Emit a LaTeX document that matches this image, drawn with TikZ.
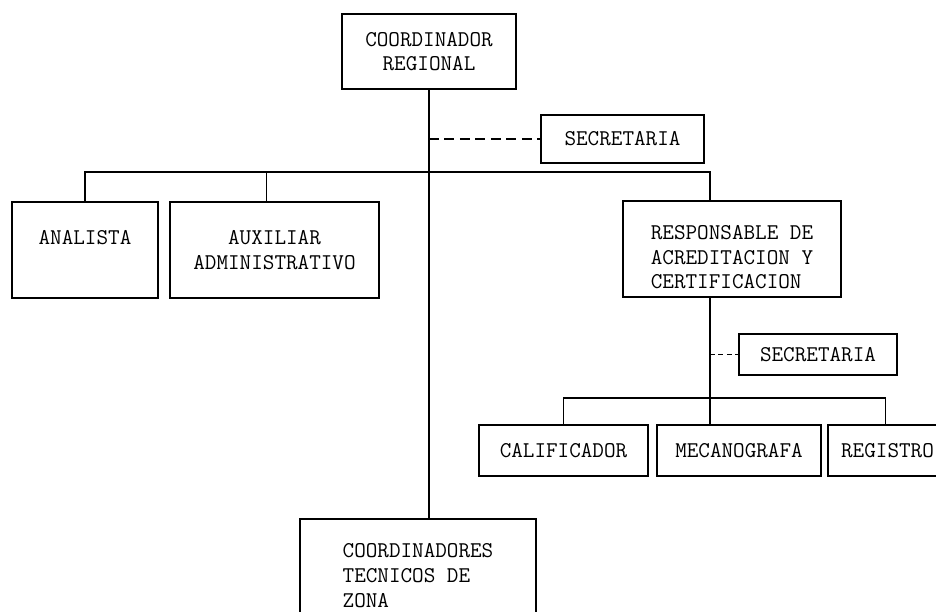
\documentclass[tikz,border=0pt]{standalone}
\usepackage{fontspec}
\usepackage{tikz}

\begin{document}
\begin{tikzpicture}[x=0.025cm, y=-0.025cm,
	puesto/.style={draw, line width=1.8pt, align=center, inner sep=2pt, font=\ttfamily\fontsize{16}{17.5}\selectfont},
	link/.style={line width=0.8pt},
	apoyo/.style={line width=0.8pt, dash pattern=on 7pt off 4pt}]
	% Page frame
	\clip (0,0) rectangle (936,612);

	% Top level
	\node[puesto, minimum width=4.35cm, minimum height=1.875cm] (coord) at (429,51.5) {COORDINADOR\\REGIONAL};
	\node[puesto, minimum width=4.075cm, minimum height=1.2cm] (sec1) at (622.5,139) {SECRETARIA};

	% Second level
	\node[puesto, minimum width=3.65cm, minimum height=2.4cm] (analista) at (85,250) {ANALISTA\\~};
	\node[puesto, minimum width=5.225cm, minimum height=2.4cm] (aux) at (274.5,250) {AUXILIAR\\ADMINISTRATIVO};
	\node[puesto, align=left, minimum width=5.45cm, minimum height=2.4cm] (resp) at (732,249) {\rule{0pt}{22pt}RESPONSABLE DE\\ACREDITACION Y\\CERTIFICACION};

	% Under the responsable
	\node[puesto, minimum width=3.95cm, minimum height=1.025cm] (sec2) at (818,354.5) {SECRETARIA};
	\node[puesto, minimum width=4.225cm, minimum height=1.275cm] (calif) at (563.5,450.5) {CALIFICADOR};
	\node[puesto, minimum width=4.1cm, minimum height=1.275cm] (meca) at (739,450.5) {MECANOGRAFA};
	\node[puesto, minimum width=2.975cm, minimum height=1.275cm] (regis) at (887.5,450.5) {REGISTRO};

	% Zone coordinators
	\node[puesto, align=left, minimum width=5.9cm, minimum height=2.825cm] (zona) at (418,575.5) {COORDINADORES\\TECNICOS DE\\ZONA};

	% Connectors
	\coordinate (bus1) at (429,172);
	\coordinate (bus2) at (710,398);
	\draw[link] (coord.south) -- (coord.south |- zona.north);
	\draw[apoyo] (coord.south |- sec1.west) -- (sec1.west);
	\draw[link] (analista.north) |- (bus1) -| ([xshift=-0.55cm]resp.north);
	\draw[link] ([xshift=-0.19cm]aux.north) -- ([xshift=-0.19cm]aux.north |- bus1);

	\draw[link] ([xshift=-0.55cm]resp.south) -- ([xshift=-0.55cm]resp.south |- meca.north);
	\draw[apoyo, dash pattern=on 3.5pt off 2.5pt] (bus2 |- sec2.west) -- (sec2.west);
	\draw[link] (calif.north) |- (bus2) -| ([xshift=-0.06cm]regis.north);

\end{tikzpicture}
\end{document}
